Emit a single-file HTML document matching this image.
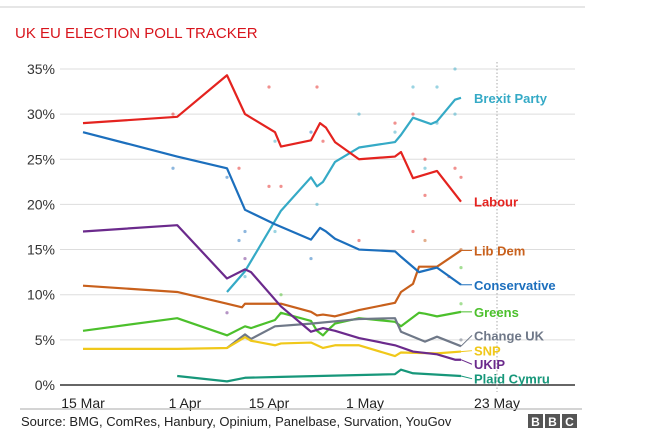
<!DOCTYPE html>
<html><head><meta charset="utf-8"><style>
body{margin:0;background:#fff;width:651px;height:443px;overflow:hidden;font-family:"Liberation Sans",sans-serif}
</style></head><body>
<svg width="651" height="443" id="c">
<line x1="0" y1="7" x2="585" y2="7" stroke="#ccc"/>
<text x="15" y="38" fill="#d8141c" font-size="15">UK EU ELECTION POLL TRACKER</text>
<g id="grid"></g><g id="dots"></g><g id="lines"></g><g id="labels"></g>
<line x1="20" y1="409" x2="582" y2="409" stroke="#aaa"/>
<text x="21" y="426" font-size="13" fill="#222">Source: BMG, ComRes, Hanbury, Opinium, Panelbase, Survation, YouGov</text>
<g>
<rect x="528" y="414" width="15" height="14" fill="#555"/><rect x="545" y="414" width="15" height="14" fill="#555"/><rect x="562" y="414" width="15" height="14" fill="#555"/>
<text x="535.5" y="426" font-size="12" font-weight="bold" fill="#fff" text-anchor="middle">B</text><text x="552.5" y="426" font-size="12" font-weight="bold" fill="#fff" text-anchor="middle">B</text><text x="569.5" y="426" font-size="12" font-weight="bold" fill="#fff" text-anchor="middle">C</text>
</g>
</svg>
<script>
const yTicks=[0,5,10,15,20,25,30,35];
const xTickDays=[0,17,31,47,69];
const xTickLabels=["15 Mar","1 Apr","15 Apr","1 May","23 May"];
const parties=["Brexit Party","Labour","Lib Dem","Conservative","Greens","Change UK","SNP","UKIP","Plaid Cymru"];
const colors=["#35aac6","#e4231f","#c8601c","#1c6fbd","#4cc02c","#6f7888","#f0c81a","#6b2a8c","#17977a"];
const labelVals=[31.8,20.3,14.9,11.1,8.1,5.5,3.8,2.3,0.7];
const brexitDays=[24,27,33,38,39,40,42,46,52,53,55,58,59,62,63];
const brexitVals=[10.3,12.6,19.3,23,22,22.5,24.7,26.3,26.9,27.7,29.6,28.9,29.2,31.6,31.8];
const labourDays=[0,15.7,24,27,32,33,38,39.5,40.5,42,46,52,53,55,59,63];
const labourVals=[29,29.7,34.3,30,28,26.4,27.1,29,28.5,26.9,25,25.3,25.8,22.9,23.7,20.3];
const libdemDays=[0,15.7,24,26.5,27,33,38,39,40,41,42,46,52,53,55,56,59,63];
const libdemVals=[11,10.3,9,8.6,9,9,8.1,7.7,7.8,7.7,7.6,8.3,9.1,10.3,11.2,13.1,13.1,14.9];
const conDays=[0,15.7,24,27,32,38,39.5,40.5,42,46,52,53,56,59,63];
const conVals=[28,25.3,24,19.4,17.8,16.1,17.4,17,16.2,15,14.8,14.2,12.5,13,11.1];
const greenDays=[0,15.7,24,27,28,32,33,38,39,40,41,42,46,52,53,56,57,59,63];
const greenVals=[6,7.4,5.5,6.5,6.3,7.2,8,7.1,6,5.5,6.2,6.8,7.4,7.0,6.5,8.0,7.9,7.6,8.1];
const cukDays=[24,27,28,32,38,46,52,53,57,59,63];
const cukVals=[4.1,5.6,5.1,6.5,6.8,7.3,7.4,5.9,4.8,5.35,4.3];
const snpDays=[0,15.7,24,27,28,32,33,38,40,42,46,52,53,59,63];
const snpVals=[4,4,4.1,5.3,4.9,4.4,4.6,4.7,4.1,4.4,4.4,3.2,3.6,3.5,3.7];
const ukipDays=[0,15.7,24,27,28,33,38,40,42,46,52,55,59,62,63];
const ukipVals=[17,17.7,11.8,12.8,12.5,8.7,5.9,6.3,6.0,5.2,4.4,3.7,3.4,2.8,2.8];
const plaidDays=[15.7,24,27,33,52,53,55,63];
const plaidVals=[1,0.4,0.8,0.9,1.2,1.7,1.3,1.0];
const dotDays=[15,15,24,24,26,26,27,27,27,31,31,32,32,33,33,38,38,39,39,40,46,46,52,52,55,55,57,57,57,59,59,62,62,62,63,63,63,63,55,57,61,63];
const dotVals=[24,30,23,8,24,16,17,14,12,33,22,27,17,22,10,28,14,33,20,27,30,16,28,29,33,30,25,24,21,33,29,35,24,30,13,23,9,5,17,16,12,15];
const dotParty=[3,1,3,7,1,3,3,7,0,1,1,0,0,1,4,3,3,1,0,1,0,1,0,1,0,1,1,0,1,0,0,0,1,0,4,1,4,5,1,2,1,2];
const series=[[brexitDays,brexitVals],[labourDays,labourVals],[libdemDays,libdemVals],[conDays,conVals],[greenDays,greenVals],[cukDays,cukVals],[snpDays,snpVals],[ukipDays,ukipVals],[plaidDays,plaidVals]];
const NS="http://www.w3.org/2000/svg";
const X=d=>83+d*6, Y=v=>385-v*9.03;
function mk(tag,attrs,parent){const e=document.createElementNS(NS,tag);for(const k in attrs)e.setAttribute(k,attrs[k]);document.getElementById(parent).appendChild(e);return e;}
yTicks.forEach(t=>{
 const l=mk("line",{x1:60,x2:575,y1:Y(t),y2:Y(t),stroke:t===0?"#333":"#ddd","stroke-width":t===0?1.5:1},"grid");
 
 
 const tx=mk("text",{x:55,y:Y(t)+5,"text-anchor":"end","font-size":14,fill:"#333"},"grid");tx.textContent=t+"%";
 
 
});
xTickDays.forEach((d,i)=>{
 const tx=mk("text",{x:X(d),y:408,"text-anchor":"middle","font-size":14,fill:"#222"},"grid");tx.textContent=xTickLabels[i];
 
 
});
const vl=mk("line",{x1:X(69),x2:X(69),y1:62,y2:392,stroke:"#aaa","stroke-dasharray":"1.5,2"},"grid");


dotDays.forEach((d,i)=>{
 const c=mk("circle",{cx:X(d),cy:Y(dotVals[i]),r:1.6,fill:colors[dotParty[i]],opacity:0.5},"dots");
 
 
});
series.forEach((s,i)=>{
 const pts=s[0].map((d,j)=>X(d)+","+Y(s[1][j])).join(" ");
 const p=mk("polyline",{points:pts,fill:"none",stroke:colors[i],"stroke-width":2.2,"stroke-linejoin":"round"},"lines");
 
 
 const lastX=X(s[0][s[0].length-1]),lastY=Y(s[1][s[1].length-1]);
 const ly=Y(labelVals[i]);
 if(i>=2){const c=mk("line",{x1:lastX,y1:lastY,x2:472,y2:ly,stroke:colors[i],"stroke-width":1},"labels");
  
  }
 const t=mk("text",{x:474,y:ly+5,"font-size":13,"font-weight":"bold",fill:colors[i]},"labels");t.textContent=parties[i];
 
 
});
</script>
</body></html>
